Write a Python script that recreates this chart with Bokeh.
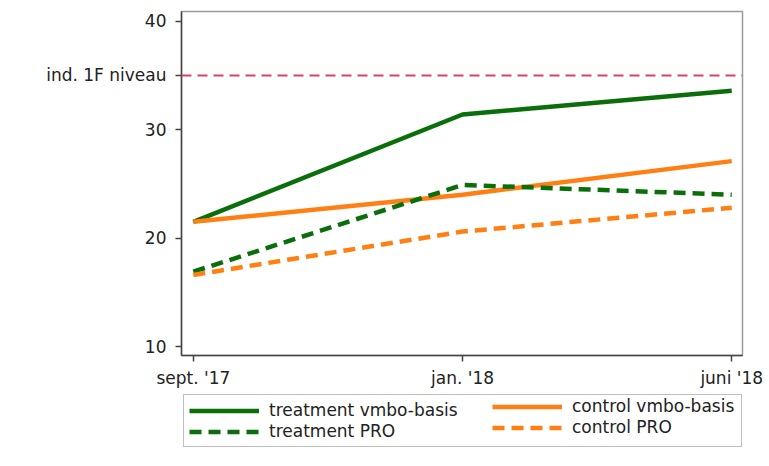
from bokeh.plotting import figure
from bokeh.layouts import column
from bokeh.models import FixedTicker, Range1d, Span, Legend, LegendItem
from bokeh.embed import file_html
from bokeh.resources import INLINE

x_labels = ["sept. '17", "jan. '18", "juni '18"]
treat_vmbo = [21.5, 31.4, 33.6]
ctrl_vmbo = [21.5, 24.0, 27.1]
treat_pro = [16.9, 24.9, 24.0]
ctrl_pro = [16.6, 20.6, 22.8]
niveau_1f = 35.0
y_ticks = [10, 20, 30, 40]

FONT = "DejaVu Sans"
FS = "17px"
GREEN = "#0a6e0a"
ORANGE = "#ff7f12"
DASH = "12 7"
LW = 4.5

xs = list(range(len(x_labels)))

p = figure(width=769, height=392, output_backend="svg", toolbar_location=None,
           x_range=Range1d(-0.044, 2.04), y_range=Range1d(9.17, 40.9),
           min_border_left=178, min_border_right=23, min_border_top=11,
           min_border_bottom=37)
p.grid.visible = False
p.outline_line_color = "#9a9a9a"
p.outline_line_width = 1.5
p.background_fill_color = "white"
p.border_fill_color = "white"

hline = Span(location=niveau_1f, dimension="width", line_color="#e0405e",
             line_width=2, line_dash="10 6")
p.add_layout(hline)

p.line(xs, treat_vmbo, line_color=GREEN, line_width=LW)
p.line(xs, ctrl_vmbo, line_color=ORANGE, line_width=LW)
p.line(xs, treat_pro, line_color=GREEN, line_width=LW, line_dash=DASH)
p.line(xs, ctrl_pro, line_color=ORANGE, line_width=LW, line_dash=DASH)

p.yaxis.ticker = FixedTicker(ticks=y_ticks + [niveau_1f])
p.yaxis.major_label_overrides = {niveau_1f: "ind. 1F niveau"}
p.xaxis.ticker = FixedTicker(ticks=xs)
p.xaxis.major_label_overrides = {i: l for i, l in enumerate(x_labels)}
for ax in (p.xaxis, p.yaxis):
    ax.axis_line_color = "#444444"
    ax.axis_line_width = 1.5
    ax.major_tick_line_color = "#444444"
    ax.major_tick_line_width = 1.5
    ax.major_tick_out = 6
    ax.major_tick_in = 0
    ax.minor_tick_line_color = None
    ax.major_label_text_font = FONT
    ax.major_label_text_font_size = FS
    ax.major_label_text_color = "#222222"
p.yaxis.major_label_standoff = 9
p.xaxis.major_label_standoff = 6

# legend strip below the chart (its key lines lie outside its own ranges)
q = figure(width=769, height=74, output_backend="svg", toolbar_location=None,
           x_range=Range1d(0, 1), y_range=Range1d(-2, -1),
           x_axis_location=None, y_axis_location=None,
           min_border_left=181, min_border_right=27, min_border_top=0, min_border_bottom=0)
q.grid.visible = False
q.outline_line_color = None
q.background_fill_color = "white"
q.border_fill_color = "white"

k1 = q.line(xs, treat_vmbo, line_color=GREEN, line_width=LW)
k2 = q.line(xs, ctrl_vmbo, line_color=ORANGE, line_width=LW)
k3 = q.line(xs, treat_pro, line_color=GREEN, line_width=LW, line_dash=DASH)
k4 = q.line(xs, ctrl_pro, line_color=ORANGE, line_width=LW, line_dash=DASH)


def make_legend(items, loc, lw, border, margin, padding):
    lg = Legend(items=items, location=loc, orientation="vertical")
    lg.label_text_font = FONT
    lg.label_text_font_size = FS
    lg.label_text_color = "#222222"
    lg.glyph_width = 70
    lg.glyph_height = 19
    lg.label_height = 19
    lg.label_width = lw
    lg.label_standoff = 10
    lg.spacing = 1
    lg.padding = padding
    lg.margin = margin
    if border:
        lg.border_line_color = "#808080"
        lg.border_line_width = 1.5
        lg.background_fill_color = "white"
    else:
        lg.border_line_color = None
        lg.background_fill_alpha = 0
    return lg


leg_a = make_legend([
    LegendItem(label="treatment vmbo-basis", renderers=[k1]),
    LegendItem(label="treatment PRO", renderers=[k3]),
], "top_left", 467, True, 2, 5)
leg_b = make_legend([
    LegendItem(label="control vmbo-basis", renderers=[k2]),
    LegendItem(label="control PRO", renderers=[k4]),
], "top_right", 166, False, 4, 3)
q.add_layout(leg_a)
q.add_layout(leg_b)

layout = column(p, q, spacing=0)
open("out.html", "w").write(file_html(layout, INLINE))
